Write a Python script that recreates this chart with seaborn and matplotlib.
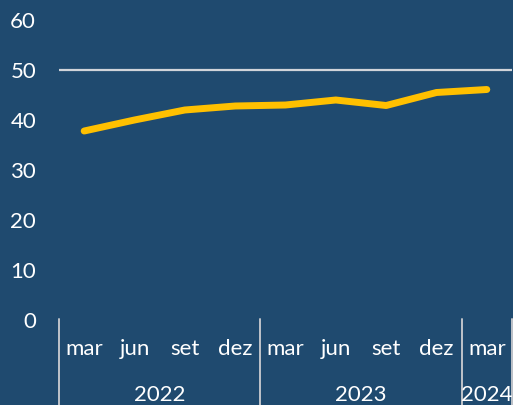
import numpy as np
import pandas as pd
import matplotlib
matplotlib.use("Agg")
import matplotlib.pyplot as plt
import seaborn as sns

# quarterly values, mar 2022 .. mar 2024
periods = ["mar 2022", "jun 2022", "set 2022", "dez 2022",
           "mar 2023", "jun 2023", "set 2023", "dez 2023",
           "mar 2024"]
months = ["mar", "jun", "set", "dez", "mar", "jun", "set", "dez", "mar"]
values = [37.8, 40.0, 42.0, 42.8, 43.0, 44.0, 42.9, 45.5, 46.1]
years = ["2022", "2023", "2024"]
year_counts = [4, 4, 1]

BG = "#1F4A6F"
LINE = "#FFC000"
TXT = "white"

sns.set_style("white")
plt.rcParams["font.family"] = ["Lato", "DejaVu Sans"]

df = pd.DataFrame({"period": periods, "value": values})

fig = plt.figure(figsize=(5.13, 4.05), dpi=100, facecolor=BG)
ax = fig.add_axes([59 / 513, 1 - 320 / 405, 1 - 59 / 513 - 0.002, 300 / 405])
ax.set_facecolor(BG)

ax.axhline(50, color="#D0D4DA", lw=1.6, zorder=1)
sns.lineplot(data=df, x="period", y="value", sort=False, color=LINE,
             lw=5, solid_capstyle="round", ax=ax, zorder=3)

ax.set_xlim(-0.5, len(periods) - 0.5)
ax.set_ylim(0, 60)
ax.set_yticks([0, 10, 20, 30, 40, 50, 60])
ax.tick_params(axis="y", length=0, pad=16.5, labelsize=16, labelcolor=TXT)
ax.set_xticks(range(len(periods)))
ax.set_xticklabels(months)
ax.tick_params(axis="x", length=0, pad=13.5, labelsize=16, labelcolor=TXT)
ax.set_xlabel("")
ax.set_ylabel("")
for s in ax.spines.values():
    s.set_visible(False)

# year groups and separators below the axis
trans = ax.get_xaxis_transform()
start = -0.5
edges = [start]
for yr, n in zip(years, year_counts):
    end = start + n
    ax.text((start + end) / 2, -0.27, yr, transform=trans, ha="center",
            va="baseline", fontsize=16, color=TXT)
    edges.append(end)
    start = end
for e in edges:
    ax.plot([e, e], [0.005, -0.3], transform=trans, color="#C0C4CA",
            lw=1.4, clip_on=False)

fig.savefig("out.png", dpi=100, facecolor=BG)
